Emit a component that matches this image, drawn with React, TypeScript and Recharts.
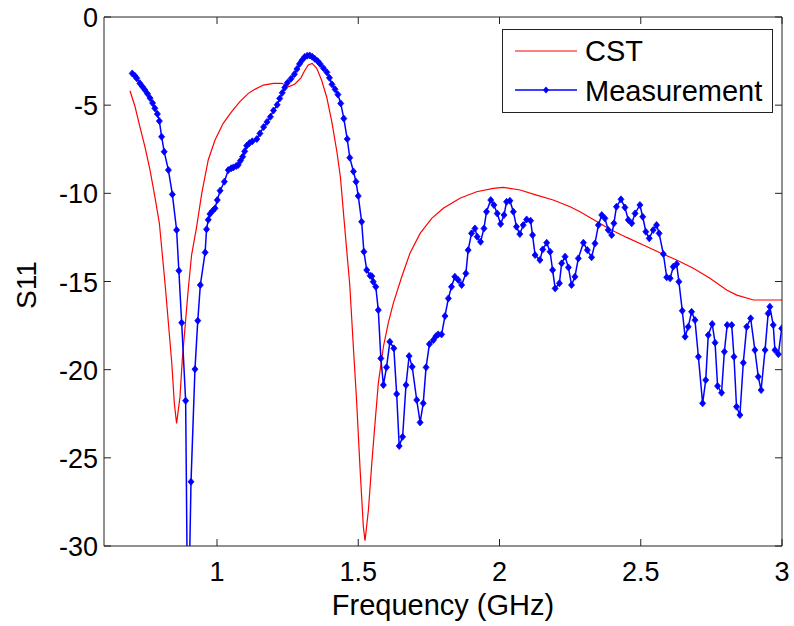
import { LineChart, Line, XAxis, YAxis, Legend } from "recharts";

// measured S11 (dB) vs frequency (GHz)
const measFreq = [
  0.7, 0.71, 0.716, 0.727, 0.736, 0.745, 0.754, 0.763, 0.772, 0.78, 0.789, 0.796,
  0.804, 0.813, 0.828, 0.842, 0.857, 0.865, 0.875, 0.889, 0.897, 0.908, 0.922,
  0.932, 0.941, 0.958, 0.963, 0.969, 0.975, 0.984, 0.993, 1.001, 1.011, 1.026,
  1.04, 1.05, 1.058, 1.068, 1.075, 1.083, 1.091, 1.098, 1.105, 1.115, 1.125,
  1.141, 1.152, 1.165, 1.177, 1.189, 1.2, 1.213, 1.222, 1.231, 1.24, 1.249,
  1.262, 1.274, 1.283, 1.292, 1.301, 1.31, 1.319, 1.328, 1.337, 1.346, 1.356,
  1.365, 1.377, 1.389, 1.398, 1.407, 1.418, 1.428, 1.438, 1.449, 1.461, 1.47,
  1.483, 1.492, 1.5, 1.512, 1.52, 1.53, 1.542, 1.548, 1.553, 1.562, 1.571,
  1.58, 1.589, 1.6, 1.612, 1.626, 1.636, 1.645, 1.657, 1.669, 1.68, 1.691,
  1.707, 1.719, 1.73, 1.74, 1.752, 1.766, 1.775, 1.783, 1.795, 1.807, 1.819,
  1.83, 1.842, 1.854, 1.866, 1.881, 1.889, 1.901, 1.913, 1.921, 1.933, 1.945,
  1.954, 1.969, 1.98, 1.992, 2.004, 2.016, 2.025, 2.037, 2.049, 2.06, 2.072,
  2.084, 2.096, 2.11, 2.117, 2.126, 2.143, 2.153, 2.167, 2.179, 2.188, 2.197,
  2.212, 2.22, 2.232, 2.244, 2.255, 2.267, 2.279, 2.297, 2.311, 2.326, 2.338,
  2.35, 2.362, 2.373, 2.385, 2.397, 2.405, 2.414, 2.43, 2.444, 2.456, 2.468,
  2.48, 2.497, 2.507, 2.518, 2.53, 2.544, 2.556, 2.565, 2.58, 2.592, 2.604,
  2.615, 2.627, 2.635, 2.647, 2.657, 2.668, 2.68, 2.692, 2.704, 2.719, 2.73,
  2.739, 2.753, 2.763, 2.772, 2.786, 2.796, 2.806, 2.822, 2.83, 2.839, 2.851,
  2.863, 2.875, 2.889, 2.904, 2.916, 2.926, 2.94, 2.951, 2.957, 2.969, 2.975,
  2.987, 2.999,
];
const measS11 = [
  -3.2, -3.35, -3.48, -3.76, -3.95, -4.14, -4.35, -4.6, -4.88, -5.18, -5.5, -5.9,
  -6.79, -7.64, -8.68, -10.06, -12.08, -14.39, -17.34, -21.76, -36, -26.36, -19.97,
  -17.22, -15.2, -13.35, -12.04, -11.5, -11.17, -11.0, -10.85, -10.38, -9.85, -9.34,
  -8.68, -8.58, -8.53, -8.45, -8.39, -8.15, -7.92, -7.62, -7.3, -7.15, -7.05,
  -6.92, -6.6, -6.24, -5.95, -5.66, -5.3, -4.98, -4.62, -4.3, -4.0, -3.73,
  -3.5, -3.24, -2.95, -2.66, -2.45, -2.27, -2.2, -2.18, -2.25, -2.37, -2.5,
  -2.66, -2.9, -3.14, -3.45, -3.82, -4.1, -4.4, -4.9, -5.76, -6.92, -7.98,
  -8.76, -9.34, -10.15, -11.61, -13.31, -14.35, -14.67, -14.7, -15.01, -15.3, -16.62,
  -19.36, -20.87, -19.87, -18.42, -18.79, -21.38, -24.33, -23.81, -20.87, -19.23, -19.84,
  -21.72, -22.99, -21.91, -19.87, -18.55, -18.32, -18.1, -18.0, -18.0, -16.96, -15.96,
  -15.3, -14.73, -14.92, -15.2, -14.54, -13.22, -12.27, -11.99, -12.46, -12.75, -11.99,
  -11.04, -10.38, -10.66, -11.14, -11.74, -11.23, -10.48, -10.42, -11.04, -11.89, -12.31,
  -11.8, -11.48, -11.55, -12.37, -13.5, -13.78, -13.18, -12.8, -13.31, -14.35, -15.39,
  -15.1, -13.97, -13.59, -14.2, -15.2, -14.73, -13.69, -12.8, -13.22, -13.63, -12.84,
  -11.8, -11.23, -11.42, -12.08, -12.37, -11.7, -10.76, -10.34, -10.8, -11.51, -11.7,
  -11.14, -10.66, -11.33, -12.18, -12.55, -12.08, -11.8, -12.27, -13.44, -14.76, -14.82,
  -14.16, -14.01, -15.01, -16.66, -18.13, -17.57, -16.72, -17.19, -19.27, -21.91, -20.59,
  -18.04, -17.41, -18.47, -20.93, -21.31, -18.98, -17.47, -17.47, -19.27, -22.1, -22.57,
  -19.61, -17.57, -17.09, -18.89, -20.4, -21.16, -18.89, -16.81, -16.43, -17.47, -18.89,
  -19.12, -17.66,
];

// CST simulation
const cstFreq = [
  0.692, 0.71, 0.727, 0.745, 0.763, 0.78, 0.796, 0.806, 0.816, 0.828, 0.84, 0.849,
  0.857, 0.869, 0.877, 0.887, 0.898, 0.91, 0.928, 0.946, 0.969, 0.993, 1.022,
  1.052, 1.081, 1.111, 1.129, 1.164, 1.2, 1.229, 1.255, 1.276, 1.297, 1.31,
  1.323, 1.337, 1.353, 1.37, 1.388, 1.406, 1.424, 1.437, 1.449, 1.459, 1.47,
  1.483, 1.494, 1.506, 1.518, 1.524, 1.536, 1.548, 1.559, 1.571, 1.589, 1.606,
  1.624, 1.654, 1.683, 1.719, 1.76, 1.801, 1.86, 1.919, 1.978, 2.013, 2.073,
  2.131, 2.19, 2.25, 2.285, 2.332, 2.391, 2.45, 2.509, 2.568, 2.627, 2.686,
  2.745, 2.804, 2.84, 2.899, 2.95, 3.0,
];
const cstS11 = [
  -4.18, -5.09, -6.22, -7.36, -8.68, -10.19, -11.7, -13.4, -15.1, -17.37, -19.64, -21.91,
  -23.05, -21.54, -19.46, -17.57, -15.49, -13.5, -11.89, -10.0, -8.11, -6.98, -6.03,
  -5.37, -4.8, -4.33, -4.14, -3.86, -3.76, -3.76, -3.95, -3.8, -3.45, -3.05,
  -2.72, -2.63, -2.91, -3.57, -4.52, -5.9, -7.6, -9.1, -11.35, -13.2, -15.2,
  -18.8, -21.72, -25.5, -28.9, -29.7, -27.96, -25.3, -23.1, -20.78, -18.7, -17.37,
  -16.24, -14.73, -13.4, -12.27, -11.42, -10.85, -10.28, -9.91, -9.72, -9.66, -9.81,
  -10.1, -10.38, -10.76, -11.04, -11.48, -12.04, -12.5, -12.93, -13.37, -13.78, -14.25,
  -14.82, -15.48, -15.77, -16.05, -16.05, -16.05,
];

const xTicks = [1, 1.5, 2, 2.5, 3];
const yTicks = [-30, -25, -20, -15, -10, -5, 0];

const measData = measFreq.map((f, i) => ({ f, s11: measS11[i] }));
const cstData = cstFreq.map((f, i) => ({ f, s11: cstS11[i] }));

const FONT = "'Liberation Sans', Arial, sans-serif";
const AXIS = "#222";
const TICK_LEN = 7;

const BottomTick = (props: any) => {
  const { x, y, payload } = props;
  return (
    <g>
      <line x1={x} y1={y} x2={x} y2={y - TICK_LEN} stroke={AXIS} />
      <text x={x} y={y + 35} textAnchor="middle" fontSize={27} fontFamily={FONT} fill="#000">
        {payload.value}
      </text>
    </g>
  );
};

const TopTick = (props: any) => {
  const { x, y } = props;
  return <line x1={x} y1={y} x2={x} y2={y + TICK_LEN} stroke={AXIS} />;
};

const LeftTick = (props: any) => {
  const { x, y, payload } = props;
  return (
    <g>
      <line x1={x} y1={y} x2={x + TICK_LEN} y2={y} stroke={AXIS} />
      <text x={x - 6} y={y + 10} textAnchor="end" fontSize={27} fontFamily={FONT} fill="#000">
        {payload.value}
      </text>
    </g>
  );
};

const RightTick = (props: any) => {
  const { x, y } = props;
  return <line x1={x} y1={y} x2={x - TICK_LEN} y2={y} stroke={AXIS} />;
};

const YLabel = (props: any) => {
  const { viewBox } = props;
  const cx = viewBox.x + 26;
  const cy = viewBox.y + viewBox.height / 2 + 3.5;
  return (
    <text
      x={cx}
      y={cy}
      transform={`rotate(-90 ${cx} ${cy})`}
      textAnchor="middle"
      dominantBaseline="central"
      fontSize={28}
      fontFamily={FONT}
      fill="#000"
    >
      S11
    </text>
  );
};

const Diamond = (props: any) => {
  const { cx, cy, index } = props;
  if (cx == null || cy == null) return null;
  return (
    <path
      key={`d-${index}`}
      d={`M${cx},${cy - 3.5}L${cx + 3},${cy}L${cx},${cy + 3.5}L${cx - 3},${cy}Z`}
      fill="#0000ff"
      stroke="#0000ff"
      strokeWidth={0.8}
    />
  );
};

const LegendBox = () => (
  <svg width={272} height={85} style={{ display: "block" }}>
    <rect x={0.5} y={0.5} width={270} height={83} fill="#fff" stroke={AXIS} />
    <line x1={13} y1={22} x2={75} y2={22} stroke="#ff0000" strokeWidth={1.2} />
    <text x={83} y={32} fontSize={29} fontFamily={FONT} fill="#000">CST</text>
    <line x1={13} y1={61} x2={75} y2={61} stroke="#0000ff" strokeWidth={1.5} />
    <path d="M44,57.5L47,61L44,64.5L41,61Z" fill="#0000ff" />
    <text x={83} y={72} fontSize={29} fontFamily={FONT} fill="#000">Measurement</text>
  </svg>
);

export default function App() {
  return (
    <div style={{ position: "absolute", left: 0, top: 0, width: 794, height: 626, background: "#fff" }}>
      <LineChart width={794} height={626} margin={{ top: 16, right: 11, left: 0, bottom: 0 }}>
        <XAxis
          dataKey="f"
          type="number"
          domain={[0.6, 3]}
          ticks={xTicks}
          allowDataOverflow
          height={80}
          tickSize={0}
          tickMargin={0}
          tickLine={false}
          axisLine={{ stroke: AXIS }}
          tick={<BottomTick />}
          interval={0}
          label={{
            value: "Frequency (GHz)",
            position: "insideBottom",
            offset: 11,
            fontSize: 29,
            fontFamily: FONT,
            fill: "#000",
          }}
        />
        <XAxis
          xAxisId="top"
          orientation="top"
          dataKey="f"
          type="number"
          domain={[0.6, 3]}
          ticks={xTicks}
          allowDataOverflow
          height={1}
          tickSize={0}
          tickMargin={0}
          tickLine={false}
          axisLine={{ stroke: AXIS }}
          tick={<TopTick />}
          interval={0}
        />
        <YAxis
          type="number"
          domain={[-30, 0]}
          ticks={yTicks}
          allowDataOverflow
          width={104}
          tickSize={0}
          tickMargin={0}
          tickLine={false}
          axisLine={{ stroke: AXIS }}
          tick={<LeftTick />}
          interval={0}
          label={{ content: <YLabel /> }}
        />
        <YAxis
          yAxisId="right"
          orientation="right"
          type="number"
          domain={[-30, 0]}
          ticks={yTicks}
          allowDataOverflow
          width={1}
          tickSize={0}
          tickMargin={0}
          tickLine={false}
          axisLine={{ stroke: AXIS }}
          tick={<RightTick />}
          interval={0}
        />
        <Legend
          layout="vertical"
          align="center"
          verticalAlign="middle"
          wrapperStyle={{ left: 502, top: 29, width: 272, height: 85 }}
          content={<LegendBox />}
        />
        <Line
          data={cstData}
          dataKey="s11"
          name="CST"
          type="linear"
          stroke="#ff0000"
          strokeWidth={1.2}
          dot={false}
          isAnimationActive={false}
        />
        <Line
          data={measData}
          dataKey="s11"
          name="Measurement"
          type="linear"
          stroke="#0000ff"
          strokeWidth={1.5}
          dot={Diamond}
          isAnimationActive={false}
        />
      </LineChart>
    </div>
  );
}
